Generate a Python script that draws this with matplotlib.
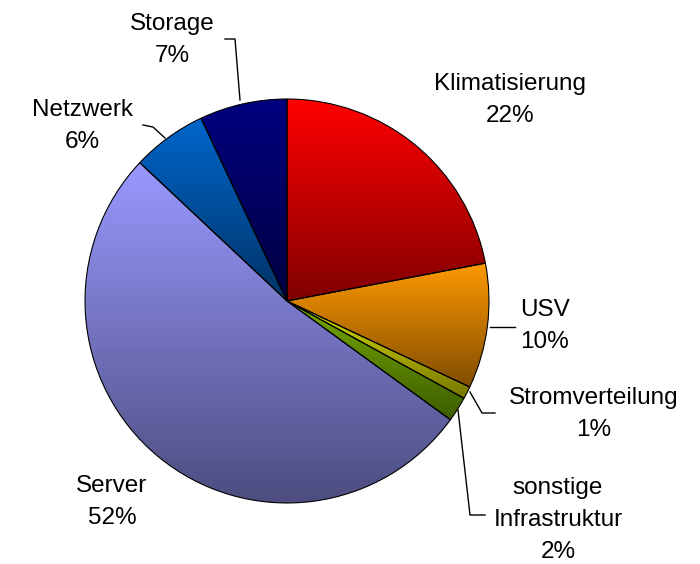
import numpy as np
import matplotlib
matplotlib.use('Agg')
import matplotlib.pyplot as plt
from matplotlib.lines import Line2D

plt.rcParams['font.family'] = ['Liberation Sans', 'DejaVu Sans']

# data
labels = ['Klimatisierung', 'USV', 'Stromverteilung', 'sonstige\nInfrastruktur',
          'Server', 'Netzwerk', 'Storage']
shares = [22, 10, 1, 2, 52, 6, 7]

# gradient colours (top, bottom) per slice
top_cols = ['#ff0000', '#ff9900', '#dddd00', '#77aa00', '#9999ff', '#0066cc', '#000080']
bot_cols = ['#800000', '#804d00', '#777700', '#3d5c00', '#4d4d80', '#003366', '#000040']

W, H = 700, 564
fig = plt.figure(figsize=(W / 100, H / 100), dpi=100)
fig.patch.set_facecolor('white')

# pie centre (287, 301) px, radius 204 px
cx, cy, r = 287, 301, 204
ax = fig.add_axes([(cx - r) / W, 1 - (cy + r) / H, 2 * r / W, 2 * r / H])
ax.axis('off')

wedges, _ = ax.pie(shares, startangle=90, counterclock=False, radius=1,
                   wedgeprops=dict(facecolor='none', edgecolor='black', linewidth=0.8))

def hex2rgb(h):
    return np.array([int(h[i:i + 2], 16) for i in (1, 3, 5)]) / 255.0

for w, c0, c1 in zip(wedges, top_cols, bot_cols):
    ext = w.get_path().get_extents()
    t = np.linspace(0, 1, 256)[:, None]
    grad = (1 - t) * hex2rgb(c0) + t * hex2rgb(c1)
    img = np.repeat(grad[:, None, :], 2, axis=1)
    im = ax.imshow(img, extent=(ext.x0, ext.x1, ext.y0, ext.y1), origin='upper',
                   aspect='auto', zorder=0, interpolation='bilinear')
    im.set_clip_path(w)
    w.set_zorder(2)

ax.set_xlim(-1.01, 1.01)
ax.set_ylim(-1.01, 1.01)

def px(x, y):
    return x / W, 1 - y / H

# labels: (text, centre x, centre y) in px
label_pos = [(labels[0], 510, 100), (labels[1], 545, 326), (labels[2], 594, 414),
             (labels[3], 558, 520), (labels[4], 112, 502), (labels[5], 82, 126),
             (labels[6], 172, 40)]
for (name, x, y), s in zip(label_pos, shares):
    fig.text(*px(x, y), f'{name}\n{s}%', ha='center', va='center',
             fontsize=17.5, linespacing=1.6, color='black')

# leader lines
leaders = [
    [(225, 39), (235, 39), (240, 100)],            # Storage
    [(143, 125), (153, 127), (165, 138)],          # Netzwerk
    [(490, 327), (515, 327)],                      # USV
    [(470, 392), (482, 413), (495, 413)],          # Stromverteilung
    [(458, 410), (470, 515), (485, 515)],          # sonstige Infrastruktur
]
for pts in leaders:
    xs = [p[0] / W for p in pts]
    ys = [1 - p[1] / H for p in pts]
    fig.add_artist(Line2D(xs, ys, color='black', linewidth=1.0))

fig.savefig('out.png', dpi=100, facecolor='white')
